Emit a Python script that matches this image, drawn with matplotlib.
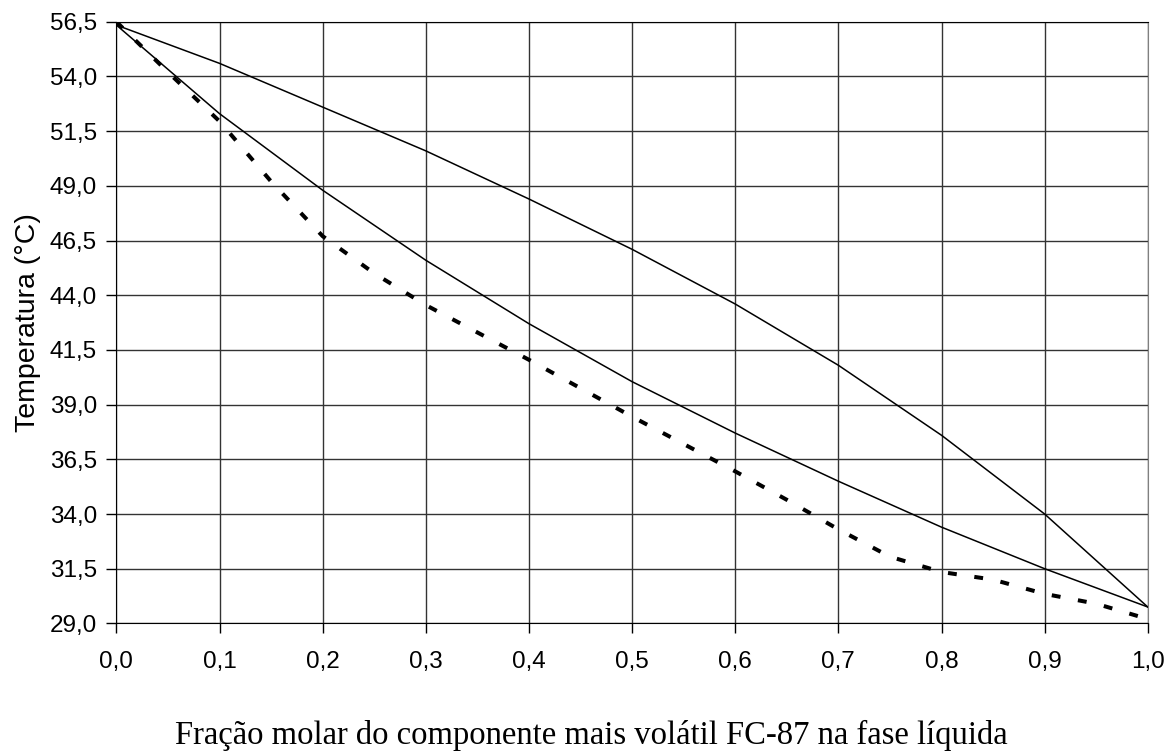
import numpy as np
import matplotlib
matplotlib.use("Agg")
import matplotlib.pyplot as plt

# fraction of FC-87 in the liquid phase
x = [0.0, 0.1, 0.2, 0.3, 0.4, 0.5, 0.6, 0.7, 0.8, 0.9, 1.0]
# upper solid curve
t_upper = [56.35, 54.6, 52.6, 50.6, 48.4, 46.1, 43.6, 40.8, 37.6, 34.0, 29.75]
# lower solid curve
t_lower = [56.35, 52.3, 48.8, 45.6, 42.7, 40.05, 37.7, 35.5, 33.4, 31.5, 29.75]

# dashed curve
x_dash = [0.0, 0.05, 0.1, 0.15, 0.2, 0.25, 0.3, 0.4, 0.5, 0.6, 0.65, 0.7, 0.75, 0.8, 0.85, 0.9, 0.95, 1.0]
t_dash = [56.5, 54.2, 51.95, 49.2, 46.7, 45.0, 43.55, 41.05, 38.45, 35.95, 34.65, 33.3, 32.05, 31.35, 31.0, 30.35, 29.9, 29.2]

yticks = [29.0, 31.5, 34.0, 36.5, 39.0, 41.5, 44.0, 46.5, 49.0, 51.5, 54.0, 56.5]
xticks = [0.0, 0.1, 0.2, 0.3, 0.4, 0.5, 0.6, 0.7, 0.8, 0.9, 1.0]

fig = plt.figure(figsize=(11.76, 7.52), dpi=100)
ax = fig.add_axes([0.099, 0.171, 0.877, 0.8])

ax.plot(x, t_upper, color="black", lw=1.1)
ax.plot(x, t_lower, color="black", lw=1.1)
ax.plot(x_dash, t_dash, color="black", lw=2.9, dashes=(2.2, 4.4), dash_capstyle="butt")

ax.set_xlim(0, 1)
ax.set_ylim(29, 56.5)
ax.set_xticks(xticks)
ax.set_yticks(yticks)
ax.set_xticklabels([("%.1f" % v).replace(".", ",") for v in xticks])
ax.set_yticklabels([("%.1f" % v).replace(".", ",") for v in yticks])
ax.tick_params(labelsize=17.5, length=7, width=1, color="black")
ax.tick_params(axis="x", pad=13)
ax.tick_params(axis="y", pad=7)
for lab in ax.get_xticklabels() + ax.get_yticklabels():
    lab.set_family("Liberation Sans")

ax.grid(True, color="#333333", lw=1)
ax.set_axisbelow(True)
for s in ["left", "bottom", "top"]:
    ax.spines[s].set_color("black")
ax.spines["right"].set_color("#808080")

ax.set_ylabel("Temperatura (°C)", fontsize=20.5, family="Liberation Sans", labelpad=6)
fig.text(0.503, 0.022, "Fração molar do componente mais volátil FC-87 na fase líquida",
         ha="center", va="center", fontsize=23.5, family="Liberation Serif")

fig.savefig("out.png", dpi=100)
